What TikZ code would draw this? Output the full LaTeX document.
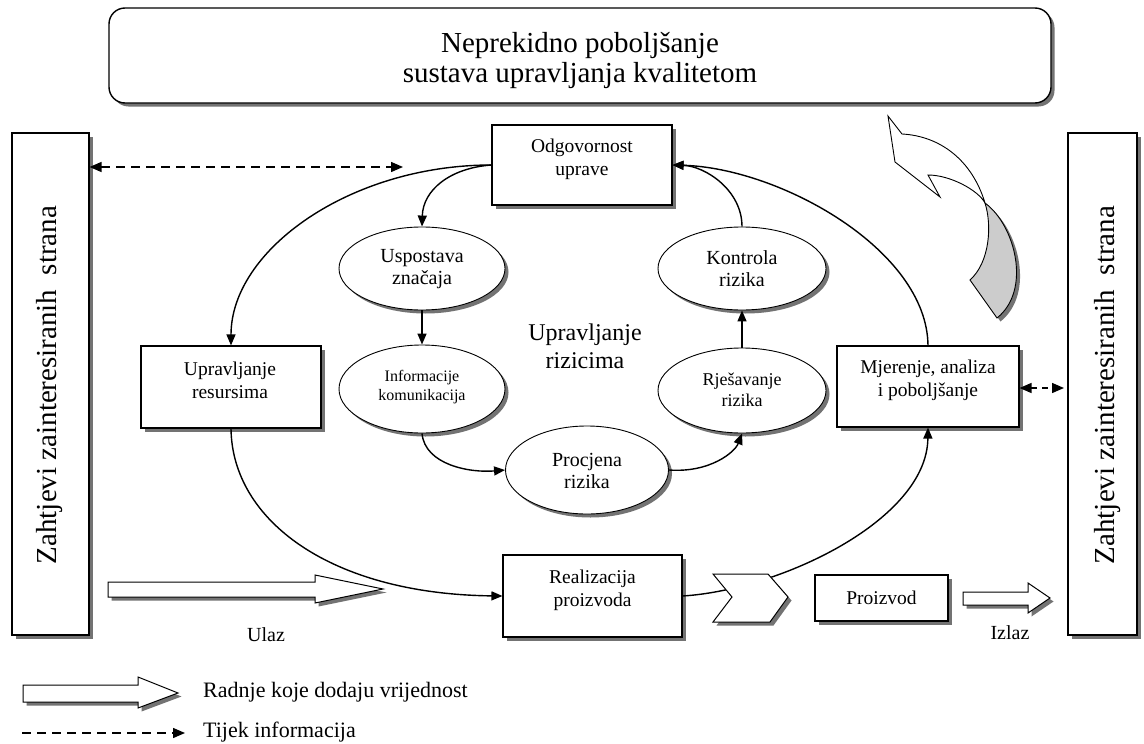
\documentclass[tikz,border=0pt]{standalone}
\usepackage{fontspec}
\setmainfont{Liberation Serif}
\usetikzlibrary{shadows,arrows.meta,shapes.geometric}
\begin{document}
\begin{tikzpicture}[x=1pt,y=-1pt,
  shad/.style={drop shadow={shadow xshift=3.5pt,shadow yshift=-3.5pt,fill=black!55,opacity=1}},
  box/.style={draw=black,line width=1.1pt,fill=white,shad,inner sep=0pt},
  ell/.style={ellipse,draw=black,line width=0.9pt,fill=white,shad,inner sep=0pt},
  lbl/.style={font=\fontsize{19.5}{23}\selectfont,align=center,inner sep=0pt},
  conn/.style={line width=1.4pt,-{Triangle[length=11pt,width=9pt]}},
  infoline/.style={line width=1.4pt,dash pattern=on 9pt off 6pt},
  tipped/.style={{Triangle[length=12pt,width=10pt]}-{Triangle[length=12pt,width=10pt]}},
  blk/.style={draw=black,line width=1pt,fill=white,shad,line join=miter}
]
\useasboundingbox (0,0) rectangle (1144,744);
\fill[white] (0,0) rectangle (1144,744);

% top box
\node[box,rounded corners=16pt,line width=1.4pt,minimum width=942pt,minimum height=95pt] (top) at (580,55.5) {};
\node[font=\fontsize{29}{30}\selectfont,align=center,inner sep=0pt] (toptext) at (580,60) {Neprekidno poboljšanje\\sustava upravljanja kvalitetom};

% side boxes
\node[box,minimum width=77pt,minimum height=502pt] (L) at (50.5,384) {};
\node[rotate=90,font=\fontsize{29}{30}\selectfont,inner sep=0pt] (Lt) at (50,385) {Zahtjevi zainteresiranih\ \ strana};
\node[box,minimum width=69pt,minimum height=502pt] (Rt) at (1102.5,384) {};
\node[rotate=90,font=\fontsize{29}{30}\selectfont,inner sep=0pt] (Rtt) at (1108,385) {Zahtjevi zainteresiranih\ \ strana};

% main boxes
\node[box,minimum width=180pt,minimum height=80pt] (O) at (582,165) {};
\node[lbl] (Ot) at (582,159) {Odgovornost\\uprave};
\node[box,minimum width=180pt,minimum height=82pt] (R) at (231,387) {};
\node[lbl] (Rtx) at (230,380) {Upravljanje\\resursima};
\node[box,minimum width=182pt,minimum height=81pt] (M) at (928,386.5) {};
\node[lbl] (Mt) at (928,380) {Mjerenje, analiza\\i poboljšanje};
\node[box,minimum width=179pt,minimum height=82pt] (RP) at (592.5,596) {};
\node[lbl] (RPt) at (592.5,590) {Realizacija\\proizvoda};
\node[box,minimum width=133pt,minimum height=46pt] (PZ) at (881.5,598) {};
\node[lbl] (PZt) at (881.5,598) {Proizvod};

% ellipses
\node[ell,minimum width=166pt,minimum height=83pt] (U) at (422,268.5) {};
\node[lbl,font=\fontsize{20}{22}\selectfont] (Ut) at (422,269) {Uspostava\\značaja};
\node[ell,minimum width=168pt,minimum height=83pt] (K) at (742,268.5) {};
\node[lbl,font=\fontsize{20}{22}\selectfont] (Kt) at (742,269) {Kontrola\\rizika};
\node[ell,minimum width=166pt,minimum height=88pt] (I) at (422,389) {};
\node[lbl,font=\fontsize{16}{19}\selectfont] (It) at (422,387) {Informacije\\komunikacija};
\node[ell,minimum width=168pt,minimum height=85pt] (Rj) at (742,390.5) {};
\node[lbl,font=\fontsize{18}{21}\selectfont] (Rjt) at (742,390) {Rješavanje\\rizika};
\node[ell,minimum width=163pt,minimum height=88pt] (P) at (587,470) {};
\node[lbl,font=\fontsize{20}{22}\selectfont] (Pt) at (587,471) {Procjena\\rizika};

\node[lbl,font=\fontsize{24}{28}\selectfont] (UR) at (585,346) {Upravljanje\\rizicima};

% connectors
\draw[conn] (O.west) .. controls (350,165) and (231,250) .. (R.north);
\draw[conn] (O.west) .. controls (450,168) and (423,190) .. (U.north);
\draw[conn] (R.south) .. controls (232,520) and (330,594) .. (RP.west);
\draw[conn] (RP.east) .. controls (780,590) and (927,520) .. (M.south);
\draw[conn] (M.north) .. controls (927,250) and (780,168) .. (O.east);
\draw[conn] (K.north) .. controls (742,190) and (705,166) .. (O.east);
\draw[conn] (U.south) -- (I.north);
\draw[conn] (I.south) .. controls (425,465) and (470,473) .. (P.west);
\draw[conn] (P.east) .. controls (710,473) and (735,452) .. (Rj.south);
\draw[conn] (Rj.north) -- (K.south);

% chevron
\draw[blk] (713,574) -- (768,574) -- (788,597) -- (770,622) -- (713,622) -- (732,597) -- cycle;

% block arrows
\draw[blk] (108,582) -- (315,582) -- (315,575) -- (383,589) -- (315,603) -- (315,597) -- (108,597) -- cycle;
\draw[blk] (963,592) -- (1028,592) -- (1028,583) -- (1050,598) -- (1028,613) -- (1028,605) -- (963,605) -- cycle;
\draw[blk] (23,685) -- (138,685) -- (138,677) -- (178,693) -- (138,708) -- (138,702) -- (23,702) -- cycle;

% dashed information arrows
\coordinate (dEnd) at (403,167);
\draw[infoline,tipped] (L.east |- dEnd) -- (dEnd);
\coordinate (rEnd) at (1064,388);
\draw[line width=1.4pt,dash pattern=on 6pt off 5pt,tipped] (M.east |- rEnd) -- (rEnd);
\coordinate (lgA) at (22,733);
\coordinate (lgB) at (185,733);
\draw[infoline,-{Triangle[length=12pt,width=10pt]}] (lgA) -- (lgB);

% labels
\node[font=\fontsize{20}{22}\selectfont,inner sep=0pt] (ulaz) at (266,635) {Ulaz};
\node[font=\fontsize{20}{22}\selectfont,inner sep=0pt] (izlaz) at (1010,633) {Izlaz};
\node[font=\fontsize{22}{24}\selectfont,anchor=west,inner sep=0pt] (lg1) at (203,692) {Radnje koje dodaju vrijednost};
\node[font=\fontsize{22}{24}\selectfont,anchor=west,inner sep=0pt] (lg2) at (203,732) {Tijek informacija};

% curved 3D arrow
\draw[draw=black,line width=0.9pt,fill=white,line join=miter] (888,116) -- (902,134) .. controls (940,136) and (972,160) .. (985,203) .. controls (978,190) and (950,175) .. (928,175) -- (940,197) -- (895,162) -- cycle;
\draw[draw=black,line width=0.9pt,fill=gray!40,shad] (985,203) .. controls (1015,225) and (1032,290) .. (997,318) -- (970,280) .. controls (990,262) and (992,225) .. (985,203) -- cycle;
\end{tikzpicture}
\end{document}
